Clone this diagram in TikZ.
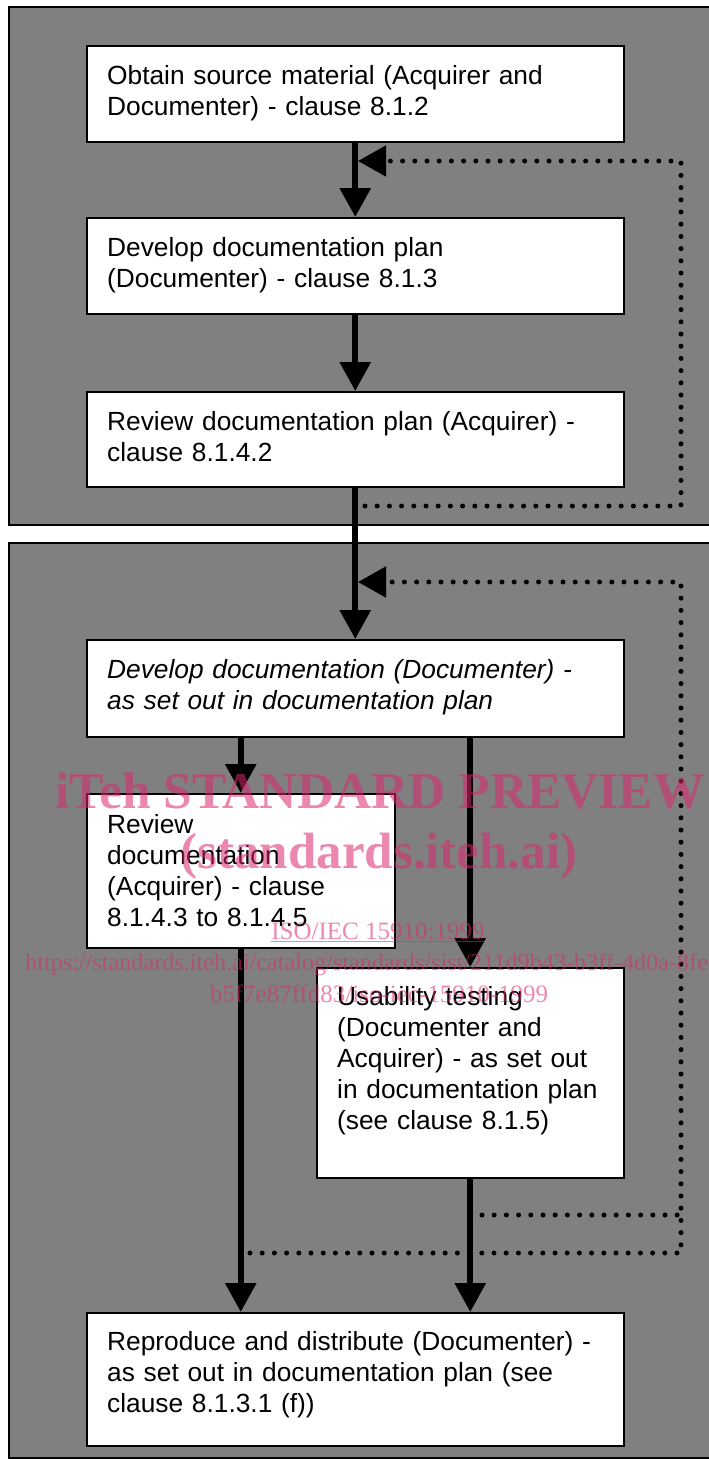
\documentclass[tikz,border=0pt]{standalone}
\usepackage{fontspec}
\setmainfont{Liberation Sans}
\newfontfamily\wmfont{Liberation Serif}
\usetikzlibrary{arrows.meta,calc}
\definecolor{panelgray}{HTML}{808080}
\definecolor{wmpink}{RGB}{220,40,110}
\begin{document}
\begin{tikzpicture}[x=1pt,y=-1pt,
  panel/.style={fill=panelgray,draw=black,line width=1.5pt},
  procbox/.style={draw=black,fill=white,line width=1.5pt,anchor=north west,inner sep=0pt},
  boxtext/.style={anchor=base west,inner sep=0pt,text width=#1,align=left,font=\fontsize{26.3}{31}\selectfont},
  flow/.style={line width=6pt,-{Triangle[width=30pt,length=29pt]}},
  fbarrow/.style={line width=5pt,line cap=round,dash pattern=on 0pt off 12.2pt,-{Triangle[width=30pt,length=28pt]}},
  fbline/.style={line width=5pt,line cap=round,dash pattern=on 0pt off 12.2pt},
  wm/.style={text=wmpink,opacity=0.55,inner sep=0pt}]
\useasboundingbox (0,0) rectangle (709,1459);
\clip (0,0) rectangle (709,1459);
\fill[white] (0,0) rectangle (709,1459);

% panels
\draw[panel] (9,7) rectangle (725,525);
\draw[panel] (9,543) rectangle (725,1458);

% boxes
\node[procbox,minimum width=537pt,minimum height=96pt] (b1) at (86,45) {};
\node[procbox,minimum width=537pt,minimum height=96pt] (b2) at (86,217) {};
\node[procbox,minimum width=537pt,minimum height=95pt] (b3) at (86,391) {};
\node[procbox,minimum width=537pt,minimum height=97pt] (b4) at (86,639) {};
\node[procbox,minimum width=308pt,minimum height=154pt] (b5) at (86,793) {};
\node[procbox,minimum width=307pt,minimum height=210pt] (b6) at (316,967) {};
\node[procbox,minimum width=537pt,minimum height=133pt] (b7) at (86,1312) {};

% texts
\node[boxtext=500pt] (t1) at ($(b1.north west)+(21,39)$) {Obtain source material (Acquirer and\\Documenter) - clause 8.1.2};
\node[boxtext=500pt] (t2) at ($(b2.north west)+(21,39)$) {Develop documentation plan\\(Documenter) - clause 8.1.3};
\node[boxtext=500pt] (t3) at ($(b3.north west)+(21,39)$) {Review documentation plan (Acquirer) -\\clause 8.1.4.2};
\node[boxtext=500pt,font=\fontsize{26.3}{31}\selectfont\itshape] (t4) at ($(b4.north west)+(21,39)$) {Develop documentation (Documenter) -\\as set out in documentation plan};
\node[boxtext=280pt] (t5) at ($(b5.north west)+(21,40)$) {Review\\documentation\\(Acquirer) - clause\\8.1.4.3 to 8.1.4.5};
\node[boxtext=290pt] (t6) at ($(b6.north west)+(21,38)$) {Usability testing\\(Documenter and\\Acquirer) - as set out\\in documentation plan\\(see clause 8.1.5)};
\node[boxtext=500pt] (t7) at ($(b7.north west)+(21,38)$) {Reproduce and distribute (Documenter) -\\as set out in documentation plan (see\\clause 8.1.3.1 (f))};

% feedback loops (dotted)
\coordinate (f1s) at (365,506);
\coordinate (f1a) at (681,506);
\coordinate (f1b) at (681,161);
\coordinate (f1e) at (358,161);
\draw[fbarrow] (f1s) -- (f1a) -- (f1b) -- (f1e);

\coordinate (f2s) at (250,1253);
\coordinate (f2a) at (681,1253);
\coordinate (f2b) at (681,582);
\coordinate (f2e) at (358,582);
\draw[fbarrow] (f2s) -- (f2a) -- (f2b) -- (f2e);

\coordinate (f3s) at (482,1215);
\coordinate (f3a) at (681,1215);
\draw[fbline] (f3s) -- (f3a);

% main flow
\draw[flow] (b1.south) -- (b2.north);
\draw[flow] (b2.south) -- (b3.north);
\draw[flow] (b3.south) -- (b4.north);
\draw[flow] (b5.north |- b4.south) -- (b5.north);
\draw[flow] (b6.north |- b4.south) -- (b6.north);
\draw[flow] (b5.south) -- (b5.south |- b7.north);
\draw[flow] (b6.south) -- (b6.south |- b7.north);

% watermark
\node[wm,anchor=base,font=\wmfont\bfseries\fontsize{51.5}{51}\selectfont] (wm1) at (380,808) {iTeh STANDARD PREVIEW};
\node[wm,anchor=base,font=\wmfont\bfseries\fontsize{51}{51}\selectfont] (wm2) at (379,868) {(standards.iteh.ai)};
\node[wm,anchor=base,font=\wmfont\fontsize{25}{25}\selectfont] (wm3) at (378,939) {\underline{ISO/IEC 15910:1999}};
\node[wm,anchor=base west,font=\wmfont\fontsize{24.2}{25}\selectfont] (wm4) at (25,970) {https://standards.iteh.ai/catalog/standards/sist/211d9b43-b3ff-4d0a-8fe};
\node[wm,anchor=base,font=\wmfont\fontsize{25}{25}\selectfont] (wm5) at (379,1002) {b5f7e87ffd83/iso-iec-15910-1999};
\end{tikzpicture}
\end{document}
